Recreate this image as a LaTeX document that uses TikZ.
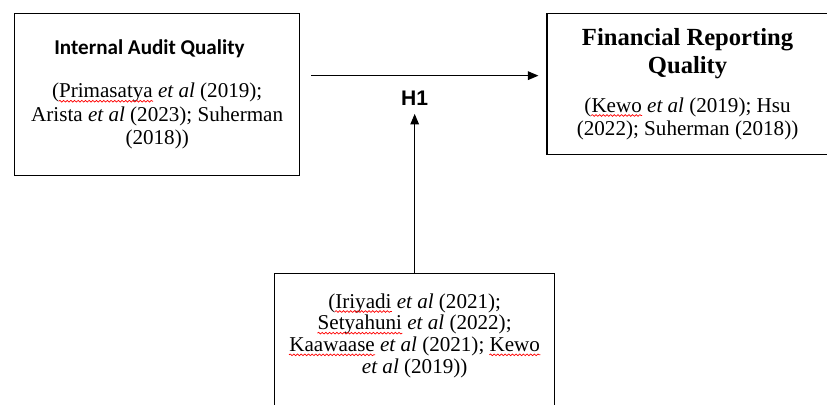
\documentclass[tikz,border=0pt]{standalone}
\usepackage{fontspec}
\setmainfont{Liberation Serif}
\newfontfamily\calibrifont{Carlito}
\newfontfamily\arialfont{Liberation Sans}
\usetikzlibrary{arrows,positioning,decorations.pathmorphing}

% red wavy line of the spell checker
\newcommand{\spellerr}[1]{\tikz[baseline=(word.base)]{\node[draw=none, inner sep=0pt, minimum width=0pt, minimum height=0pt, text depth=, text height=, anchor=base] (word) at (0,0) {#1};
    \draw[overlay, red, line width=0.5pt, decorate, decoration={snake, amplitude=0.6pt, segment length=2.6pt}]
    ([yshift=-2.3pt]word.base west) -- ([yshift=-2.3pt]word.base east);}}

\begin{document}
\begin{tikzpicture}[
    x=0.025cm, y=-0.025cm,
    varbox/.style={rectangle, draw, line width=0.9pt, align=center, inner sep=0pt, font=\fontsize{15}{16.6}\selectfont},
    hyplabel/.style={font=\arialfont\bfseries\fontsize{15}{18}\selectfont, inner sep=0pt},
    arrow/.style={line width=0.7pt,->,>=triangle 45}
]

\useasboundingbox (0,0) rectangle (827,404);

% Independent variable
\node [varbox, minimum width=7.125cm, minimum height=4.05cm, anchor=north west] (iaq) at (14,13)
    {{\calibrifont\bfseries Internal Audit Quality}\hspace*{11pt}\\[14pt]
     (\spellerr{Primasatya} \textit{et al} (2019);\\
     Arista \textit{et al} (2023); Suherman\\
     (2018))};

% Dependent variable
\node [varbox, minimum width=7.025cm, minimum height=3.525cm, right=6.15cm of iaq.north east, anchor=north west] (frq)
    {{\fontsize{17.5}{20}\selectfont\bfseries Financial Reporting}\\[3.4pt]
     {\fontsize{17.5}{20}\selectfont\bfseries Quality}\\[11pt]
     (\spellerr{Kewo} \textit{et al} (2019); Hsu\\
     (2022); Suherman (2018))};

% Moderating variable (runs off the bottom)
\node [varbox, font=\fontsize{15}{15.4}\selectfont, minimum width=7cm, text depth=2.6cm, inner ysep=0.5cm, anchor=north west] (mod) at (274,273)
    {(\spellerr{Iriyadi} \textit{et al} (2021);\\
     \spellerr{Setyahuni} \textit{et al} (2022);\\
     \spellerr{Kaawaase} \textit{et al} (2021); \spellerr{Kewo}\\
     \textit{et al} (2019))};

% Hypothesis
\node [hyplabel, above=4.175cm of mod.north] (h1) {H1};

% Connectors
\draw [arrow, shorten <=0.275cm, shorten >=0.2cm] ([yshift=0.475cm]iaq.east) -- ([yshift=0.475cm]iaq.east -| frq.west);
\draw [arrow, shorten >=0.2cm] (mod.north) -- (h1.south);

\end{tikzpicture}
\end{document}
